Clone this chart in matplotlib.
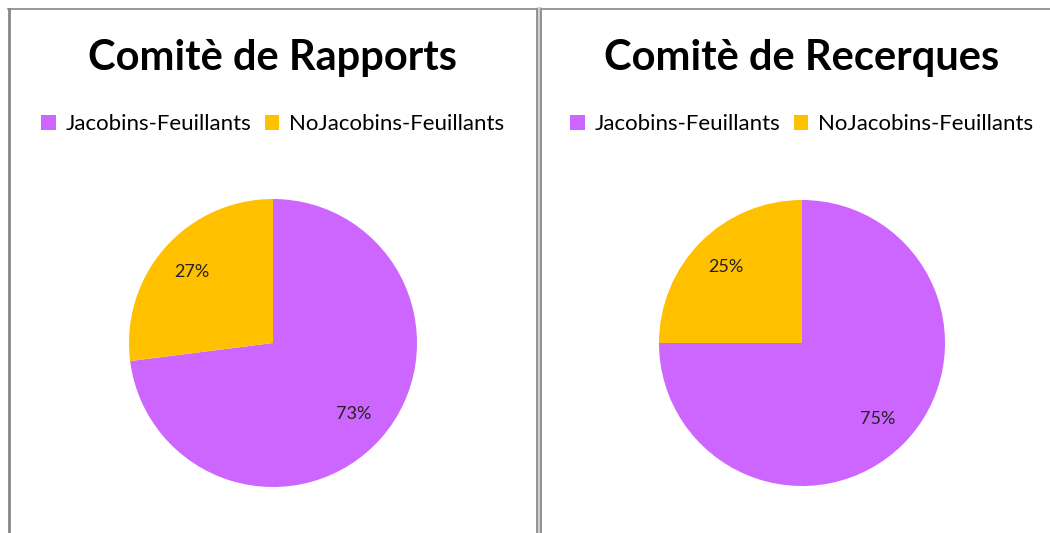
import matplotlib.pyplot as plt
from matplotlib.lines import Line2D
from matplotlib.patches import Patch

plt.rcParams['font.family'] = ['Lato', 'DejaVu Sans']

groups = ['Jacobins-Feuillants', 'NoJacobins-Feuillants']
colors = ['#CC66FF', '#FFC000']
titles = ['Comitè de Rapports', 'Comitè de Recerques']
rapports = [73, 27]
recerques = [75, 25]

W, H = 1050, 533
fig = plt.figure(figsize=(W / 100, H / 100), dpi=100)

def box(cx, cy, r):
    # pixel centre/radius -> figure fraction rect
    return [(cx - r) / W, (H - cy - r) / H, 2 * r / W, 2 * r / H]

panels = [(273, 343, 144, rapports), (802, 343, 143, recerques)]
for (cx, cy, r, vals), title in zip(panels, titles):
    ax = fig.add_axes(box(cx, cy, r))
    ax.pie(vals, colors=colors, startangle=90, counterclock=False,
           autopct='%d%%', pctdistance=0.75,
           textprops={'fontsize': 13, 'color': '#222222'})
    ax.set_xlim(-1, 1)
    ax.set_ylim(-1, 1)
    fig.text(cx / W, 1 - 58 / H, title, ha='center', va='center',
             fontsize=30, fontweight='bold')
    handles = [Patch(facecolor=c, edgecolor='none') for c in colors]
    fig.legend(handles, groups, loc='center', ncol=2, frameon=False,
               bbox_to_anchor=(cx / W, 1 - 124 / H), fontsize=16,
               handlelength=0.65, handleheight=0.65, handletextpad=0.45,
               columnspacing=0.6)

# panel borders
def hline(y, x0, x1, **kw):
    fig.add_artist(Line2D([x0 / W, x1 / W], [1 - y / H, 1 - y / H], **kw))

def vline(x, y0, y1, **kw):
    fig.add_artist(Line2D([x / W, x / W], [1 - y0 / H, 1 - y1 / H], **kw))

hline(9, 8, W, color='#868686', lw=1.2)
vline(9, 9, H, color='#868686', lw=2)
vline(539, 9, H, color='#d0d0d0', lw=3.5)
vline(537.3, 9, H, color='#868686', lw=1.2)
vline(540.7, 9, H, color='#868686', lw=1.2)

fig.savefig('out.png', dpi=100)
